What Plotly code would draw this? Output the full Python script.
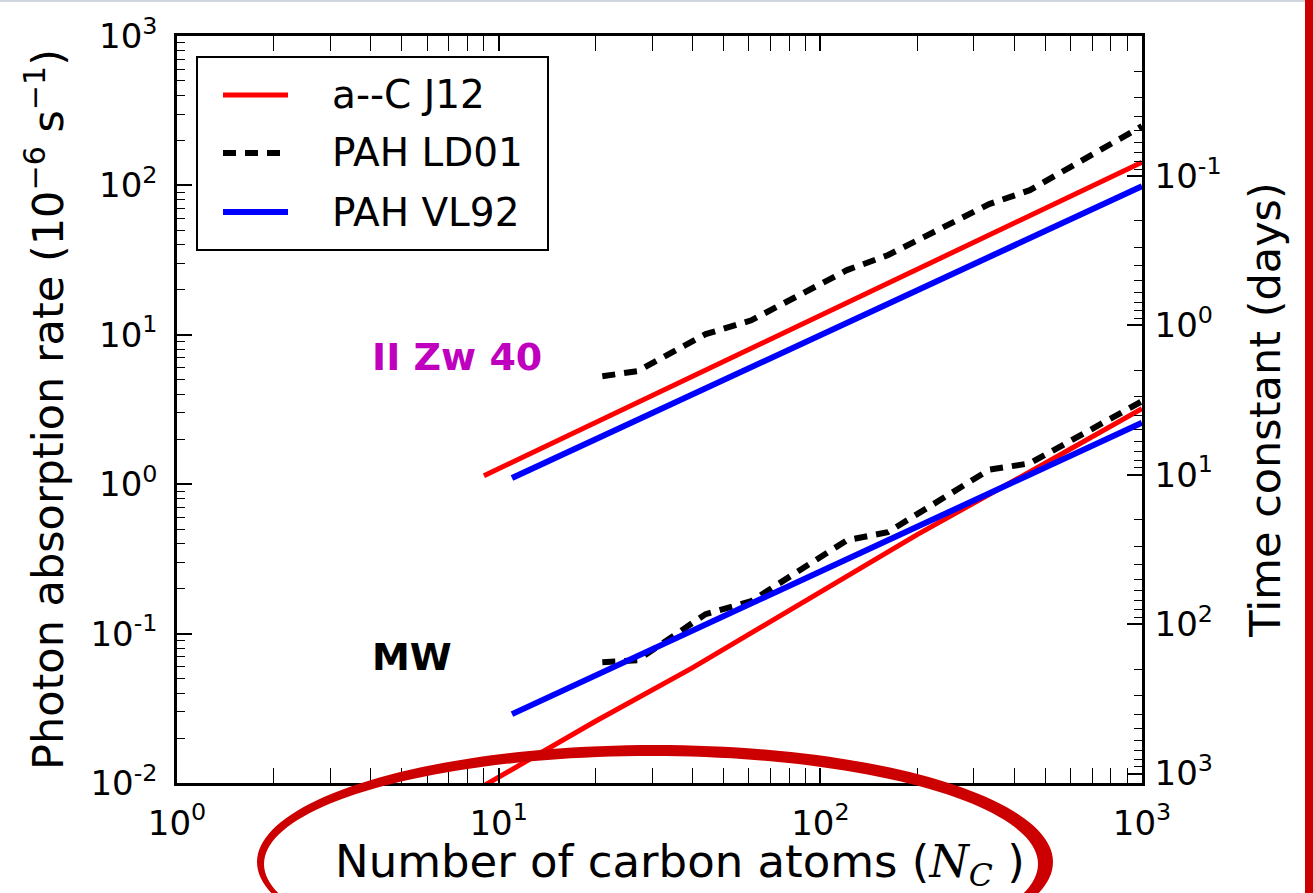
import numpy as np
import plotly.graph_objects as go

# ---- data: photon absorption rate (1e-6 s^-1) versus number of carbon atoms ----
N_AC = [9, 20, 40, 100, 200, 500, 1000]
AC_J12_IIZW40 = [1.14, 2.59, 5.27, 13.5, 27.4, 70.2, 143]
AC_J12_MW = [0.0096, 0.0259, 0.059, 0.189, 0.46, 1.38, 3.2]

N_VL92 = [11, 20, 50, 100, 200, 500, 1000]
VL92_IIZW40 = [1.10, 2.0, 4.98, 9.96, 19.9, 49.6, 98.8]
VL92_MW = [0.0289, 0.0523, 0.130, 0.261, 0.52, 1.30, 2.58]

N_LD01 = [21, 27, 44, 61, 121, 162, 335, 448, 1000]
LD01_IIZW40 = [5.28, 5.71, 10.1, 12.5, 27.1, 34.1, 75, 92.9, 249]
LD01_MW = [0.0644, 0.0664, 0.135, 0.165, 0.422, 0.477, 1.25, 1.38, 3.59]

X_TICKS = [1, 10, 100, 1000]
X_TICK_TEXT = ["10<sup>0</sup>", "10<sup>1</sup>", "10<sup>2</sup>", "10<sup>3</sup>"]
Y_TICKS = [0.01, 0.1, 1, 10, 100, 1000]
Y_TICK_TEXT = ["10<sup>-2</sup>", "10<sup>-1</sup>", "10<sup>0</sup>",
               "10<sup>1</sup>", "10<sup>2</sup>", "10<sup>3</sup>"]
TAU_TICKS = [0.1, 1, 10, 100, 1000]
TAU_TICK_TEXT = ["10<sup>-1</sup>", "10<sup>0</sup>", "10<sup>1</sup>",
                 "10<sup>2</sup>", "10<sup>3</sup>"]

RATE_MIN, RATE_MAX = 0.01, 1000.0
SECONDS_PER_DAY = 86400.0

# ---- page geometry (pixels) ----
W, H = 1313, 893
ML, MR, MT, MB = 177, 171, 36, 110
PW, PH = W - ML - MR, H - MT - MB

FONT = "DejaVu Sans"
RED, BLUE, BLACK = "#ff0000", "#0000ff", "#000000"
DASH = "13px,9px"


def px_to_paper(px, py):
    return (px - ML) / PW, (H - MB - py) / PH


fig = go.Figure()

series = [
    ("a--C J12", N_AC, AC_J12_IIZW40, AC_J12_MW, dict(color=RED, width=5)),
    ("PAH LD01", N_LD01, LD01_IIZW40, LD01_MW, dict(color=BLACK, width=6, dash=DASH)),
    ("PAH VL92", N_VL92, VL92_IIZW40, VL92_MW, dict(color=BLUE, width=6)),
]
for name, n, upper, lower, line in series:
    fig.add_trace(go.Scatter(x=n, y=upper, mode="lines", name=name, line=line,
                             showlegend=False))
    fig.add_trace(go.Scatter(x=n, y=lower, mode="lines", name=name, line=line,
                             showlegend=False))

# time-constant axis (days) is the inverse of the absorption rate
tau_top = 1e6 / SECONDS_PER_DAY / RATE_MAX
tau_bottom = 1e6 / SECONDS_PER_DAY / RATE_MIN
fig.add_trace(go.Scatter(x=[None], y=[None], yaxis="y2", showlegend=False,
                         hoverinfo="skip"))

axis_common = dict(
    type="log", showgrid=False, zeroline=False, showline=True,
    linecolor="black", linewidth=2.5, ticks="inside", ticklen=15,
    tickwidth=1.5, tickcolor="black", tickmode="array", automargin=False,
    tickfont=dict(family=FONT, size=34, color="black"),
    minor=dict(ticks="inside", ticklen=8, tickwidth=1.2, tickcolor="black",
               dtick="D1", showgrid=False),
)

NC = ('<span style="font-family:\'DejaVu Serif\'"><i>N</i>'
      '<sub><i>C</i></sub></span>')

fig.update_layout(
    width=W, height=H,
    margin=dict(l=ML, r=MR, t=MT, b=MB, pad=0),
    paper_bgcolor="white", plot_bgcolor="white",
    font=dict(family=FONT, color="black"),
    showlegend=False,
    xaxis=dict(**axis_common, range=[0, 3], tickvals=X_TICKS,
               ticktext=X_TICK_TEXT, mirror="allticks",
               ticklabelstandoff=8),
    yaxis=dict(**axis_common, range=[np.log10(RATE_MIN), np.log10(RATE_MAX)],
               tickvals=Y_TICKS, ticktext=Y_TICK_TEXT, mirror=True,
               ticklabelstandoff=10,
               title=dict(text="Photon absorption rate (10<sup>−6</sup> s<sup>−1</sup>)",
                          font=dict(family=FONT, size=43), standoff=14)),
    yaxis2=dict(**axis_common, overlaying="y", side="right", anchor="x",
                range=[np.log10(tau_bottom), np.log10(tau_top)],
                tickvals=TAU_TICKS, ticktext=TAU_TICK_TEXT,
                ticklabelstandoff=3,
                title=dict(text="Time constant (days)",
                           font=dict(family=FONT, size=43), standoff=30)),
)

# x-axis title, set low in the bottom margin
tx_, ty_ = px_to_paper(680, 864)
fig.add_annotation(x=tx_, y=ty_, xref="paper", yref="paper",
                   text=f"Number of carbon atoms ({NC} )", showarrow=False,
                   xanchor="center", yanchor="middle",
                   font=dict(family=FONT, size=45, color="black"))

# legend box with line samples
lx0, ly0 = px_to_paper(197, 57)
lx1, ly1 = px_to_paper(548, 250)
fig.add_shape(type="rect", xref="paper", yref="paper", x0=lx0, x1=lx1, y0=ly1, y1=ly0,
              fillcolor="white", line=dict(color="black", width=2), layer="above")
for (name, _, _, _, line), row_y in zip(series, [95, 153, 212]):
    sx0, sy = px_to_paper(223, row_y)
    sx1, _ = px_to_paper(288, row_y)
    fig.add_shape(type="line", xref="paper", yref="paper", x0=sx0, x1=sx1, y0=sy, y1=sy,
                  line=dict(color=line["color"], width=line["width"],
                            dash=line.get("dash", "solid")), layer="above")
    tx, _ = px_to_paper(330, row_y)
    fig.add_annotation(x=tx, y=sy, xref="paper", yref="paper", text=name,
                       showarrow=False, xanchor="left", yanchor="middle",
                       font=dict(family=FONT, size=39, color="black"))

# region labels
for text, color, py in [("II Zw 40", "#bf00bf", 357), ("MW", "black", 657)]:
    ax_, ay_ = px_to_paper(370, py)
    fig.add_annotation(x=ax_, y=ay_, xref="paper", yref="paper", text=f"<b>{text}</b>",
                       showarrow=False, xanchor="left", yanchor="middle",
                       font=dict(family=FONT, size=38, color=color))


# hand-drawn style highlight ring around the x-axis title
def ellipse_path(cx, cy, rx, ry, n=180):
    t = np.linspace(0, 2 * np.pi, n, endpoint=False)
    pts = [px_to_paper(cx + rx * np.cos(a), cy + ry * np.sin(a)) for a in t]
    return "M" + " L".join(f"{x:.5f},{y:.5f}" for x, y in pts) + " Z"


ring = ellipse_path(655, 862, 398, 117) + " " + ellipse_path(651, 864, 387, 108)
fig.add_shape(type="path", path=ring, xref="paper", yref="paper",
              fillcolor="#cc0000", line=dict(width=0), fillrule="evenodd",
              layer="above")

# slide decorations: thin top rule and red side bar
x0, _ = px_to_paper(0, 0)
x1, _ = px_to_paper(1305, 0)
_, y_top0 = px_to_paper(0, 2)
_, y_top1 = px_to_paper(0, -2)
fig.add_shape(type="rect", xref="paper", yref="paper", x0=x0, x1=x1,
              y0=y_top0, y1=y_top1, fillcolor="#cfd5dc", line=dict(width=0))
bx0, by0 = px_to_paper(1305, H + 5)
bx1, by1 = px_to_paper(W + 5, -5)
fig.add_shape(type="rect", xref="paper", yref="paper", x0=bx0, x1=bx1,
              y0=by0, y1=by1, fillcolor="#cc0000", line=dict(width=0))

fig.write_html("out.html")
